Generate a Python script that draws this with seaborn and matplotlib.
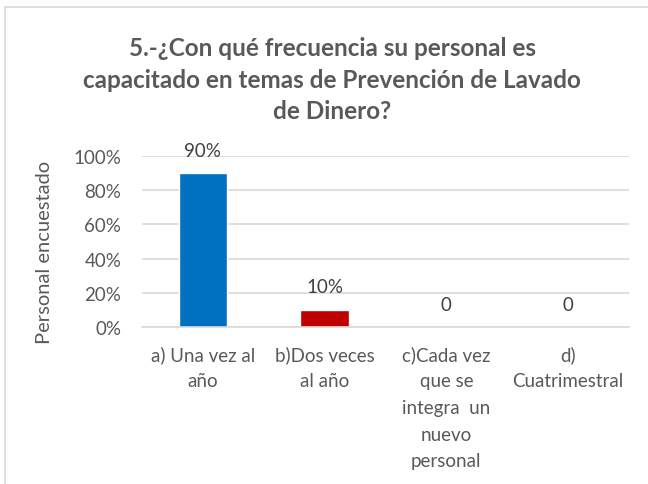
import matplotlib
matplotlib.use("Agg")
import matplotlib.pyplot as plt
import matplotlib.patches as patches
from matplotlib.ticker import PercentFormatter
import seaborn as sns
import pandas as pd

# Datos del grafico
categorias = ["a) Una vez al\naño", "b)Dos veces\nal año",
              "c)Cada vez\nque se\nintegra  un\nnuevo\npersonal", "d)\nCuatrimestral"]
valores = [0.90, 0.10, 0.0, 0.0]
etiquetas = ["90%", "10%", "0", "0"]
colores = ["#0070C0", "#C00000", "#0070C0", "#0070C0"]

titulo = "5.-¿Con qué frecuencia su personal es\ncapacitado en temas de Prevención de Lavado\nde Dinero?"

df = pd.DataFrame({"categoria": categorias, "valor": valores})

sns.set_style("white")
plt.rcParams["font.family"] = ["Lato", "DejaVu Sans"]
gris = "#595959"

fig = plt.figure(figsize=(6.48, 4.85), dpi=100)
ax = fig.add_axes([142 / 648, 1 - 328 / 485, (629 - 142) / 648, (328 - 157) / 485])

sns.barplot(data=df, x="categoria", y="valor", hue="categoria", palette=colores,
            width=0.4, legend=False, ax=ax, saturation=1)

ax.set_ylim(0, 1)
ax.set_yticks([0, 0.2, 0.4, 0.6, 0.8, 1.0])
ax.yaxis.set_major_formatter(PercentFormatter(1.0, decimals=0))
ax.grid(axis="y", color="#D9D9D9", linewidth=1.2)
ax.set_axisbelow(True)
for s in ["top", "right", "left"]:
    ax.spines[s].set_visible(False)
ax.spines["bottom"].set_color("#D9D9D9")
ax.spines["bottom"].set_linewidth(1.2)
ax.tick_params(axis="both", length=0, colors=gris, labelsize=13.5)
ax.tick_params(axis="y", pad=15)
ax.tick_params(axis="x", pad=13)
ax.set_xticks(range(len(categorias)))
ax.set_xticklabels(categorias, linespacing=1.68)
ax.set_xlabel("")
ax.set_ylabel("Personal encuestado", color=gris, fontsize=14.5)
ax.yaxis.set_label_coords(-0.183, 0.44)

for i, (v, lab) in enumerate(zip(valores, etiquetas)):
    ax.annotate(lab, (i, v), xytext=(0, 16.5), textcoords="offset points",
                ha="center", va="center", fontsize=13.5, color="#404040")

fig.text(332 / 648, 1 - 80 / 485, titulo, ha="center", va="center",
         fontsize=17.5, fontweight="bold", color=gris, linespacing=1.47)

# marco del grafico
marco = patches.Rectangle((5 / 648, -0.1), 1.1, 1 - 8 / 485 + 0.1, transform=fig.transFigure,
                          fill=False, edgecolor="#D9D9D9", linewidth=1.2)
fig.patches.append(marco)

fig.savefig("out.png", dpi=100)
